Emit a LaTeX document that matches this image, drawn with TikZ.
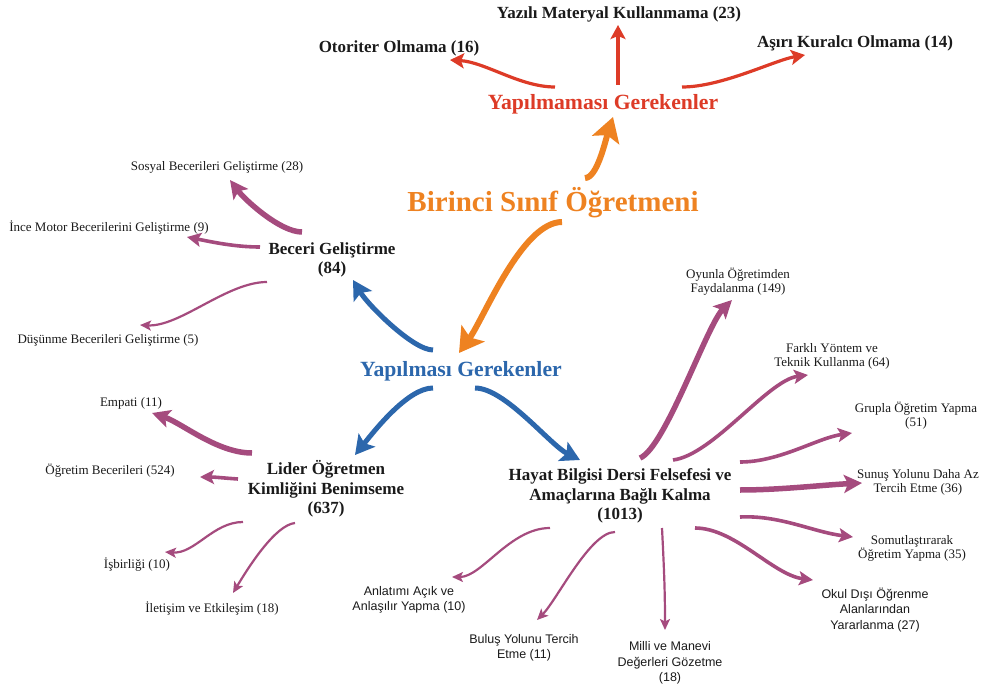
\documentclass[tikz,border=0pt]{standalone}
\usepackage{fontspec}
\setmainfont{Liberation Serif}
\setsansfont{Liberation Sans}
\usetikzlibrary{arrows.meta,calc}

\definecolor{redA}{RGB}{221,59,39}
\definecolor{orangeA}{RGB}{238,130,33}
\definecolor{blueA}{RGB}{44,103,172}
\definecolor{plum}{RGB}{165,75,126}
\definecolor{ink}{RGB}{26,26,26}

\begin{document}
\begin{tikzpicture}[x=1pt,y=-1pt,
  lab/.style={inner sep=0pt, text=ink, align=center},
  titleR/.style={lab, text=redA, font=\bfseries\fontsize{21.7}{24}\selectfont},
  titleO/.style={lab, text=orangeA, font=\bfseries\fontsize{29}{32}\selectfont},
  titleB/.style={lab, text=blueA, font=\bfseries\fontsize{21.7}{24}\selectfont},
  toplab/.style={lab, font=\bfseries\fontsize{17}{19.5}\selectfont},
  mainlab/.style={lab, font=\bfseries\fontsize{17}{19.5}\selectfont},
  leaf/.style={lab, font=\fontsize{13}{14}\selectfont},
  sleaf/.style={lab, font=\sffamily\fontsize{12.5}{15.5}\selectfont},
  redarr/.style={draw=redA, line width=3.2pt, -{Stealth[length=14pt,width=15pt,inset=3pt]}},
  orarr/.style={draw=orangeA, line width=6pt, -{Stealth[length=24pt,width=28pt,inset=5pt]}},
  bluarr/.style={draw=blueA, line width=5pt, -{Stealth[length=19pt,width=21pt,inset=4pt]}},
  parrA/.style={draw=plum, line width=5.5pt, -{Stealth[length=18pt,width=18pt,inset=4pt]}},
  parrB/.style={draw=plum, line width=3.6pt, -{Stealth[length=14pt,width=14pt,inset=3pt]}},
  parrC/.style={draw=plum, line width=2.2pt, -{Stealth[length=11pt,width=10pt,inset=2.5pt]}},
]
\useasboundingbox (0,0) rectangle (989,685);

% --- headings ---
\node[titleR] (ymg) at (603,104) {Yapılmaması Gerekenler};
\node[titleO] (bso) at (553,203) {Birinci Sınıf Öğretmeni};
\node[titleB] (yg)  at (461,371) {Yapılması Gerekenler};

% --- things to avoid ---
\node[toplab] (yaz) at (619,14) {Yazılı Materyal Kullanmama (23)};
\node[toplab] (oto) at (399,48) {Otoriter Olmama (16)};
\node[toplab] (asi) at (855,43) {Aşırı Kuralcı Olmama (14)};

% --- main themes ---
\node[mainlab] (bec) at (332,260) {Beceri Geliştirme\\(84)};
\node[mainlab] (lid) at (326,489) {Lider Öğretmen\\Kimliğini Benimseme\\(637)};
\node[mainlab] (hay) at (620,496) {Hayat Bilgisi Dersi Felsefesi ve\\Amaçlarına Bağlı Kalma\\(1013)};

% --- sub-themes ---
\node[leaf] (sos) at (217,167) {Sosyal Becerileri Geliştirme (28)};
\node[leaf] (inc) at (109,228) {İnce Motor Becerilerini Geliştirme (9)};
\node[leaf] (dus) at (108,340) {Düşünme Becerileri Geliştirme (5)};
\node[leaf] (emp) at (131,403) {Empati (11)};
\node[leaf] (ogr) at (110,471) {Öğretim Becerileri (524)};
\node[leaf] (isb) at (137,565) {İşbirliği (10)};
\node[leaf] (ile) at (212,609) {İletişim ve Etkileşim (18)};
\node[leaf] (oyu) at (738,282) {Oyunla Öğretimden\\Faydalanma (149)};
\node[leaf] (far) at (832,356) {Farklı Yöntem ve\\Teknik Kullanma (64)};
\node[leaf] (gru) at (916,416) {Grupla Öğretim Yapma\\(51)};
\node[leaf] (sun) at (918,482) {Sunuş Yolunu Daha Az\\Tercih Etme (36)};
\node[leaf] (som) at (912,548) {Somutlaştırarak\\Öğretim Yapma (35)};
\node[sleaf] (oku) at (875,610) {Okul Dışı Öğrenme\\Alanlarından\\Yararlanma (27)};
\node[sleaf] (mil) at (670,663) {Milli ve Manevi\\Değerleri Gözetme\\(18)};
\node[sleaf] (bul) at (524,648) {Buluş Yolunu Tercih\\Etme (11)};
\node[sleaf] (anl) at (409,600) {Anlatımı Açık ve\\Anlaşılır Yapma (10)};

% --- red branches ---
\draw[redarr] ($(ymg)+(-48,-17)$) .. controls +(-35,0) and +(35,2) .. ($(oto)+(51,12)$);
\draw[redarr] ($(ymg)+(15,-19)$) -- ($(yaz)+(-1,11)$);
\draw[redarr] ($(ymg)+(79,-17)$) .. controls +(40,0) and +(-30,5) .. ($(asi)+(-50,12)$);

% --- orange branches ---
\draw[orarr] ($(bso)+(32,-25)$) .. controls +(12,0) and +(-8,25) .. ($(ymg)+(10,13)$);
\draw[orarr] ($(bso)+(9,19)$) .. controls +(-40,0) and +(25,-35) .. ($(yg)+(-2,-18)$);

% --- blue branches ---
\draw[bluarr] ($(yg)+(-28,-21)$) .. controls +(-20,0) and +(15,25) .. ($(bec)+(21,20)$);
\draw[bluarr] ($(yg)+(-28,17)$) .. controls +(-25,0) and +(20,-25) .. ($(lid)+(29,-34)$);
\draw[bluarr] ($(yg)+(14,17)$) .. controls +(30,0) and +(-30,-15) .. ($(hay)+(-40,-36)$);

% --- skill development ---
\draw[parrA] ($(bec)+(-30,-28)$) .. controls +(-22,0) and +(15,20) .. ($(sos)+(13,13)$);
\draw[parrB] ($(bec)+(-72,-13)$) .. controls +(-25,0) and +(25,5) .. ($(inc)+(78,9)$);
\draw[parrC] ($(bec)+(-65,22)$) .. controls +(-40,0) and +(40,2) .. ($(dus)+(32,-15)$);

% --- leader teacher identity ---
\draw[parrA] ($(lid)+(-74,-36)$) .. controls +(-35,0) and +(30,10) .. ($(emp)+(21,10)$);
\draw[parrB] ($(lid)+(-88,-10)$) .. controls +(-15,-1) and +(15,0) .. ($(ogr)+(90,6)$);
\draw[parrC] ($(lid)+(-83,33)$) .. controls +(-30,0) and +(30,2) .. ($(isb)+(28,-13)$);
\draw[parrC] ($(lid)+(-31,34)$) .. controls +(-20,2) and +(15,-25) .. ($(ile)+(21,-16)$);

% --- life science course ---
\draw[parrA] ($(hay)+(20,-38)$) .. controls +(25,-10) and +(-25,25) .. ($(oyu)+(-6,18)$);
\draw[parrB] ($(hay)+(53,-36)$) .. controls +(40,-5) and +(-40,5) .. ($(far)+(-24,19)$);
\draw[parrB] ($(hay)+(120,-34)$) .. controls +(40,0) and +(-35,5) .. ($(gru)+(-64,17)$);
\draw[parrA] ($(hay)+(120,-6)$) .. controls +(40,0) and +(-40,2) .. ($(sun)+(-56,1)$);
\draw[parrB] ($(hay)+(120,21)$) .. controls +(40,-2) and +(-40,-5) .. ($(som)+(-59,-11)$);
\draw[parrB] ($(hay)+(75,32)$) .. controls +(40,0) and +(-40,-5) .. ($(oku)+(-62,-30)$);
\draw[parrC] ($(hay)+(42,32)$) .. controls +(2,40) and +(0,-40) .. ($(mil)+(-5,-33)$);
\draw[parrC] ($(hay)+(-5,36)$) .. controls +(-25,0) and +(20,-20) .. ($(bul)+(13,-28)$);
\draw[parrC] ($(hay)+(-70,32)$) .. controls +(-40,0) and +(30,0) .. ($(anl)+(43,-23)$);
\end{tikzpicture}
\end{document}
